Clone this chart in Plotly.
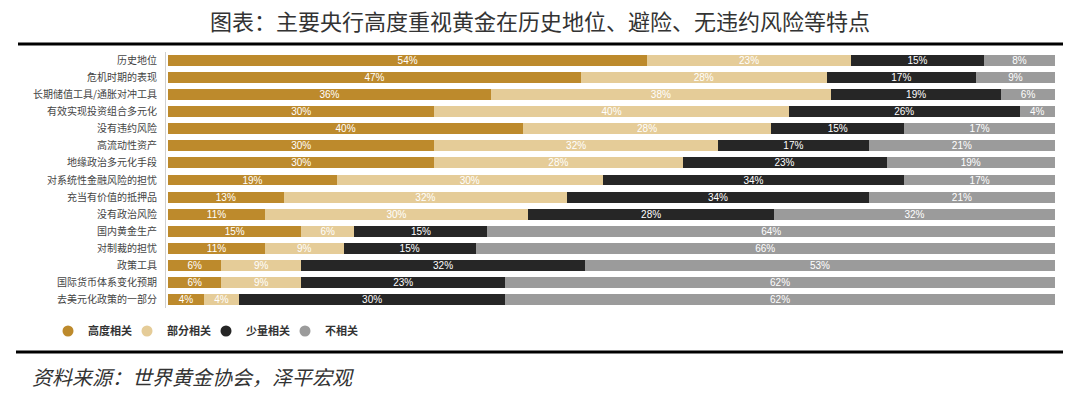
import plotly.graph_objects as go

categories = ["历史地位", "危机时期的表现", "长期储值工具/通胀对冲工具", "有效实现投资组合多元化",
              "没有违约风险", "高流动性资产", "地缘政治多元化手段", "对系统性金融风险的担忧",
              "充当有价值的抵押品", "没有政治风险", "国内黄金生产", "对制裁的担忧",
              "政策工具", "国际货币体系变化预期", "去美元化政策的一部分"]
high = [54, 47, 36, 30, 40, 30, 30, 19, 13, 11, 15, 11, 6, 6, 4]
partial = [23, 28, 38, 40, 28, 32, 28, 30, 32, 30, 6, 9, 9, 9, 4]
small = [15, 17, 19, 26, 15, 17, 23, 34, 34, 28, 15, 15, 32, 23, 30]
none_ = [8, 9, 6, 4, 17, 21, 19, 17, 21, 32, 64, 66, 53, 62, 62]
series_names = ["高度相关", "部分相关", "少量相关", "不相关"]
colors = ["#BD8A2C", "#E5CC98", "#262626", "#9B9B9B"]

W, H = 1080, 396
L, R, T, B = 166, 25, 52, 88
pw, ph = W - L - R, H - T - B

def px_x(p):
    return (p - L) / pw

def px_y(p):
    return (H - B - p) / ph

fig = go.Figure()
for name, vals, col in zip(series_names, [high, partial, small, none_], colors):
    fig.add_trace(go.Bar(
        y=categories, x=vals, orientation="h", name=name,
        marker=dict(color=col, line=dict(width=0)),
        text=[f"{v}%" for v in vals], textposition="inside",
        insidetextanchor="middle", constraintext="none",
        textfont=dict(color="white", size=10, family="Liberation Sans, Arial"),
        showlegend=False, hoverinfo="skip",
    ))
    fig.add_trace(go.Scatter(
        x=[None], y=[None], mode="markers", name=name,
        marker=dict(color=col, size=11, symbol="circle"),
        showlegend=True,
    ))

fig.update_layout(
    width=W, height=H,
    margin=dict(l=L, r=R, t=T, b=B, autoexpand=False),
    paper_bgcolor="white", plot_bgcolor="white",
    barmode="stack", barnorm="percent", bargap=0.36,
    title=dict(text="图表：主要央行高度重视黄金在历史地位、避险、无违约风险等特点",
               x=0.5, xanchor="center", y=1 - 22 / H, yanchor="middle",
               font=dict(family="Noto Sans CJK SC", size=22, color="#333333")),
    xaxis=dict(range=[-0.25, 100], showticklabels=False, showgrid=False,
               zeroline=False, showline=False, fixedrange=True, automargin=False),
    yaxis=dict(autorange="reversed", showgrid=False, zeroline=False, automargin=False,
               showline=True, linecolor="#D0D0D0", linewidth=1, ticks="",
               ticklabelstandoff=6,
               tickfont=dict(family="Noto Sans CJK SC", size=10, color="#444444")),
    legend=dict(orientation="h", xref="paper", x=px_x(48), xanchor="left",
                y=px_y(331), yanchor="middle", traceorder="normal",
                font=dict(family="Noto Sans CJK SC", size=11, color="#333333", weight="bold"),
                itemwidth=30, tracegroupgap=0, entrywidth=34, entrywidthmode="pixels"),
    shapes=[
        dict(type="line", xref="paper", yref="paper", x0=px_x(18), x1=px_x(1063),
             y0=px_y(44), y1=px_y(44), line=dict(color="black", width=3)),
        dict(type="line", xref="paper", yref="paper", x0=px_x(16), x1=px_x(1063),
             y0=px_y(352), y1=px_y(352), line=dict(color="black", width=3)),
    ],
    annotations=[
        dict(text="<i>资料来源：世界黄金协会，泽平宏观</i>", xref="paper", yref="paper",
             x=px_x(30), y=px_y(376), xanchor="left", yanchor="middle", showarrow=False,
             font=dict(family="Noto Sans CJK SC", size=20, color="#333333")),
    ],
)

fig.write_html("out.html", config={"displayModeBar": False},
               post_script="document.body.style.margin='0';document.body.style.padding='0';")
